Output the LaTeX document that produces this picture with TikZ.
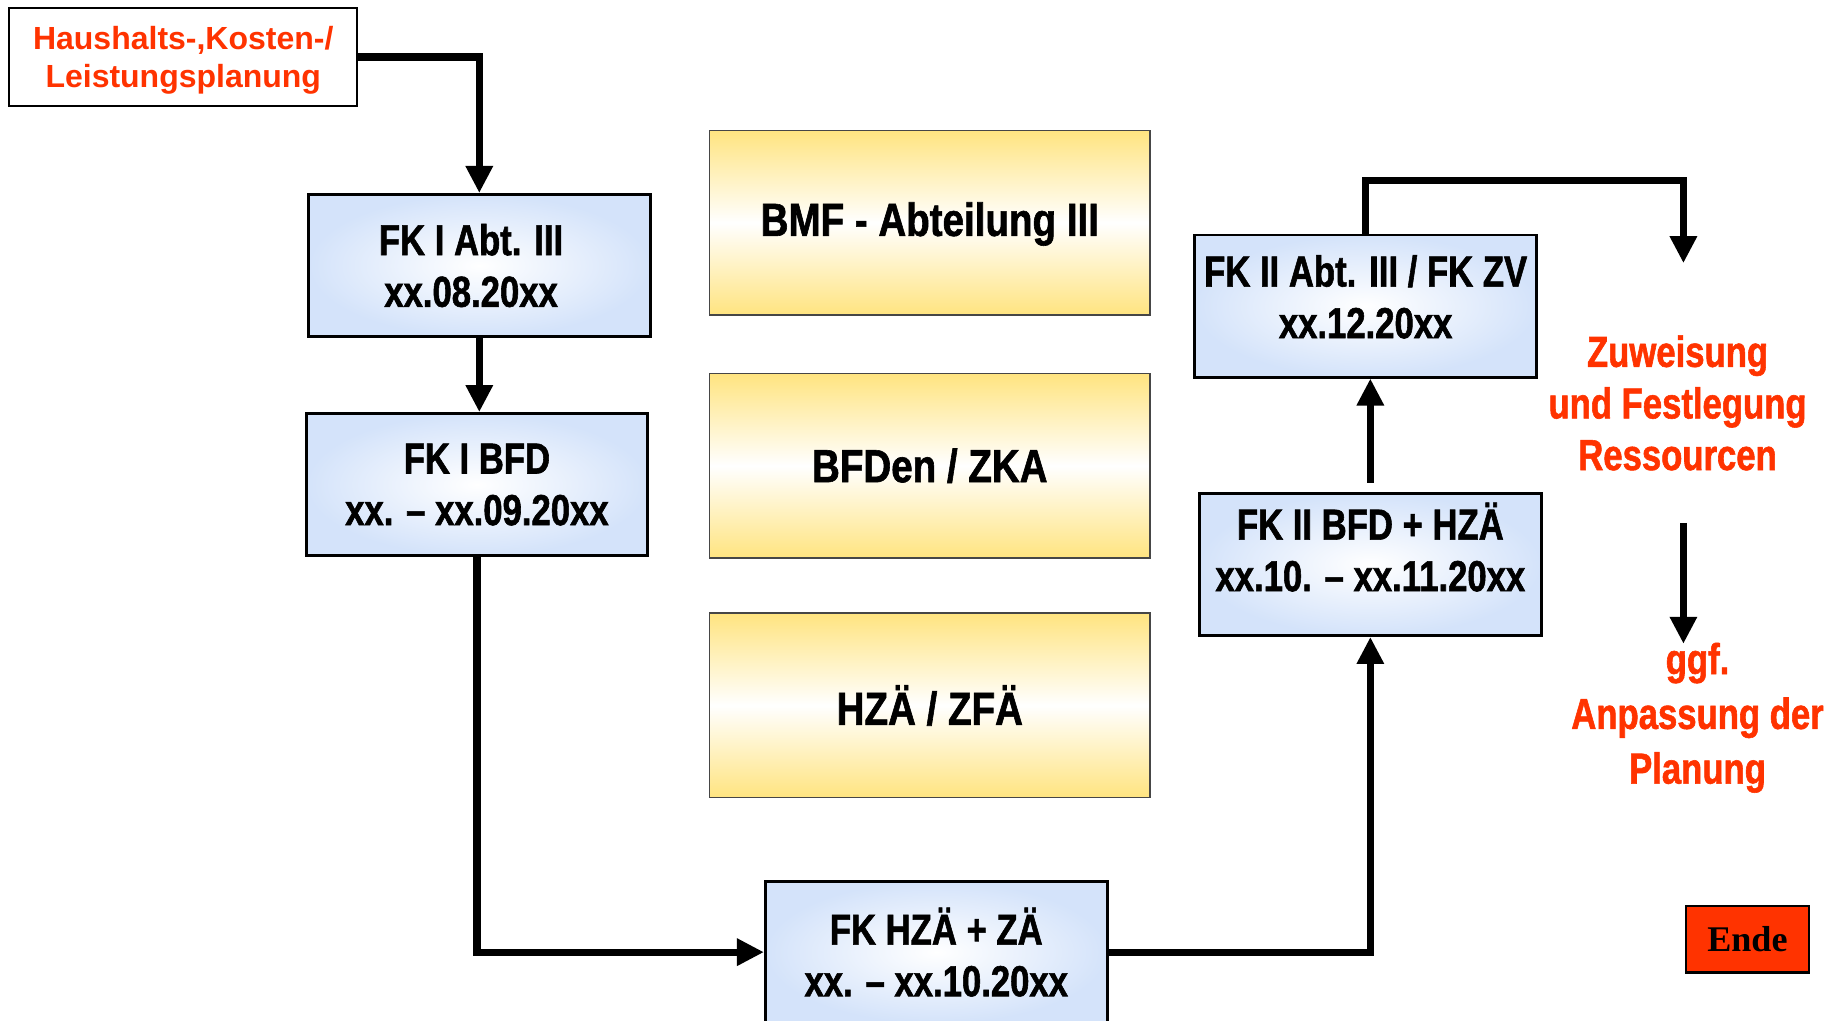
\documentclass[tikz,border=0pt]{standalone}
\usepackage{fontspec}
\setmainfont{Liberation Sans}
\newfontfamily\bluefont{Liberation Sans}[FakeStretch=0.8,FakeBold=1.3]
\newfontfamily\ylwfont{Liberation Sans}[FakeStretch=0.83,FakeBold=1.3]
\newfontfamily\endefont{Liberation Serif}
\usetikzlibrary{arrows.meta}
\definecolor{redtxt}{RGB}{255,51,0}
\definecolor{bluefill}{RGB}{212,227,250}
\definecolor{ylwfill}{RGB}{255,228,128}
\definecolor{ylwborder}{RGB}{70,70,70}
\tikzset{
  bluebox/.style={draw=black, line width=1.4pt, inner color=white, outer color=bluefill,
    minimum width=5.82cm, minimum height=2.42cm, inner sep=0pt, align=center,
    font=\bluefont\bfseries\fontsize{21}{25}\selectfont},
  ylwbox/.style={draw=ylwborder, line width=0.8pt, top color=ylwfill, bottom color=ylwfill, middle color=white,
    minimum width=7.5cm, minimum height=3.14cm, inner sep=0pt, align=center,
    font=\ylwfont\bfseries\fontsize{22.5}{25}\selectfont},
  plantext/.style={draw=black, line width=1pt, fill=white, text=redtxt,
    minimum width=5.92cm, minimum height=1.66cm, inner sep=0pt, align=center, text depth=0pt,
    font=\bfseries\fontsize{15.5}{18.8}\selectfont},
  redlabel/.style={text=redtxt, align=center, inner sep=0pt, font=\bluefont\bfseries\fontsize{21}{25}\selectfont},
  endebox/.style={draw=black, line width=1.2pt, fill=redtxt, minimum width=2.1cm, minimum height=1.14cm,
    inner sep=0pt, font=\endefont\bfseries\fontsize{17.5}{20}\selectfont},
  arr/.style={line width=3.5pt, -{Triangle[length=0.46cm,width=0.44cm]}}
}
\begin{document}
\begin{tikzpicture}[x=0.02cm,y=-0.02cm]
\useasboundingbox (0,0) rectangle (1568,869);
% nodes
\node[plantext] (plan) at (156,48.5) {Haushalts-,Kosten-/\\Leistungsplanung};
\node[bluebox] (fk1abt) at (408,226) {FK I Abt. III\hspace*{0.28cm}\\xx.08.20xx\hspace*{0.28cm}};
\node[bluebox] (fk1bfd) at (406,412.5) {FK I BFD\\xx. – xx.09.20xx};
\node[bluebox] (fkhza) at (797,810.5) {FK HZÄ + ZÄ\\xx. – xx.10.20xx};
\node[bluebox, text depth=0.6cm] (fk2bfd) at (1166.5,480.5) {FK II BFD + HZÄ\\xx.10. – xx.11.20xx};
\node[bluebox, text depth=0.32cm] (fk2abt) at (1162.5,260.5) {FK II Abt. III / FK ZV\\xx.12.20xx};
\node[ylwbox, text depth=0.12cm] (bmf) at (791.5,189.5) {BMF - Abteilung III};
\node[ylwbox] (bfden) at (791.5,396.5) {BFDen / ZKA};
\node[ylwbox] (hza) at (791.5,600.5) {HZÄ / ZFÄ};
\node[redlabel] (zuw) at (1428,343) {Zuweisung\\und Festlegung\\Ressourcen};
\node[redlabel, font=\bluefont\bfseries\fontsize{21}{26.5}\selectfont] (ggf) at (1445,611) {ggf.\\Anpassung der\\Planung};
\node[endebox] (ende) at (1487.5,799.5) {Ende};
\coordinate (a6e) at (1433,224);
\coordinate (a7s) at (1433,445);
\coordinate (a7e) at (1433,548);
% connectors
\draw[arr] (plan.east) -| (fk1abt.north);
\draw[arr] (fk1abt.south) -- (fk1abt.south |- fk1bfd.north);
\draw[arr] (fk1bfd.south) |- (fkhza.west);
\draw[arr] (fkhza.east) -| (fk2bfd.south);
\draw[arr] ([yshift=0.16cm]fk2bfd.north) -- (fk2bfd.north |- fk2abt.south);
\draw[arr] (fk2abt.north) -- ++(0,-45) -| (a6e);
\draw[arr] (a7s) -- (a7e);
\end{tikzpicture}
\end{document}
